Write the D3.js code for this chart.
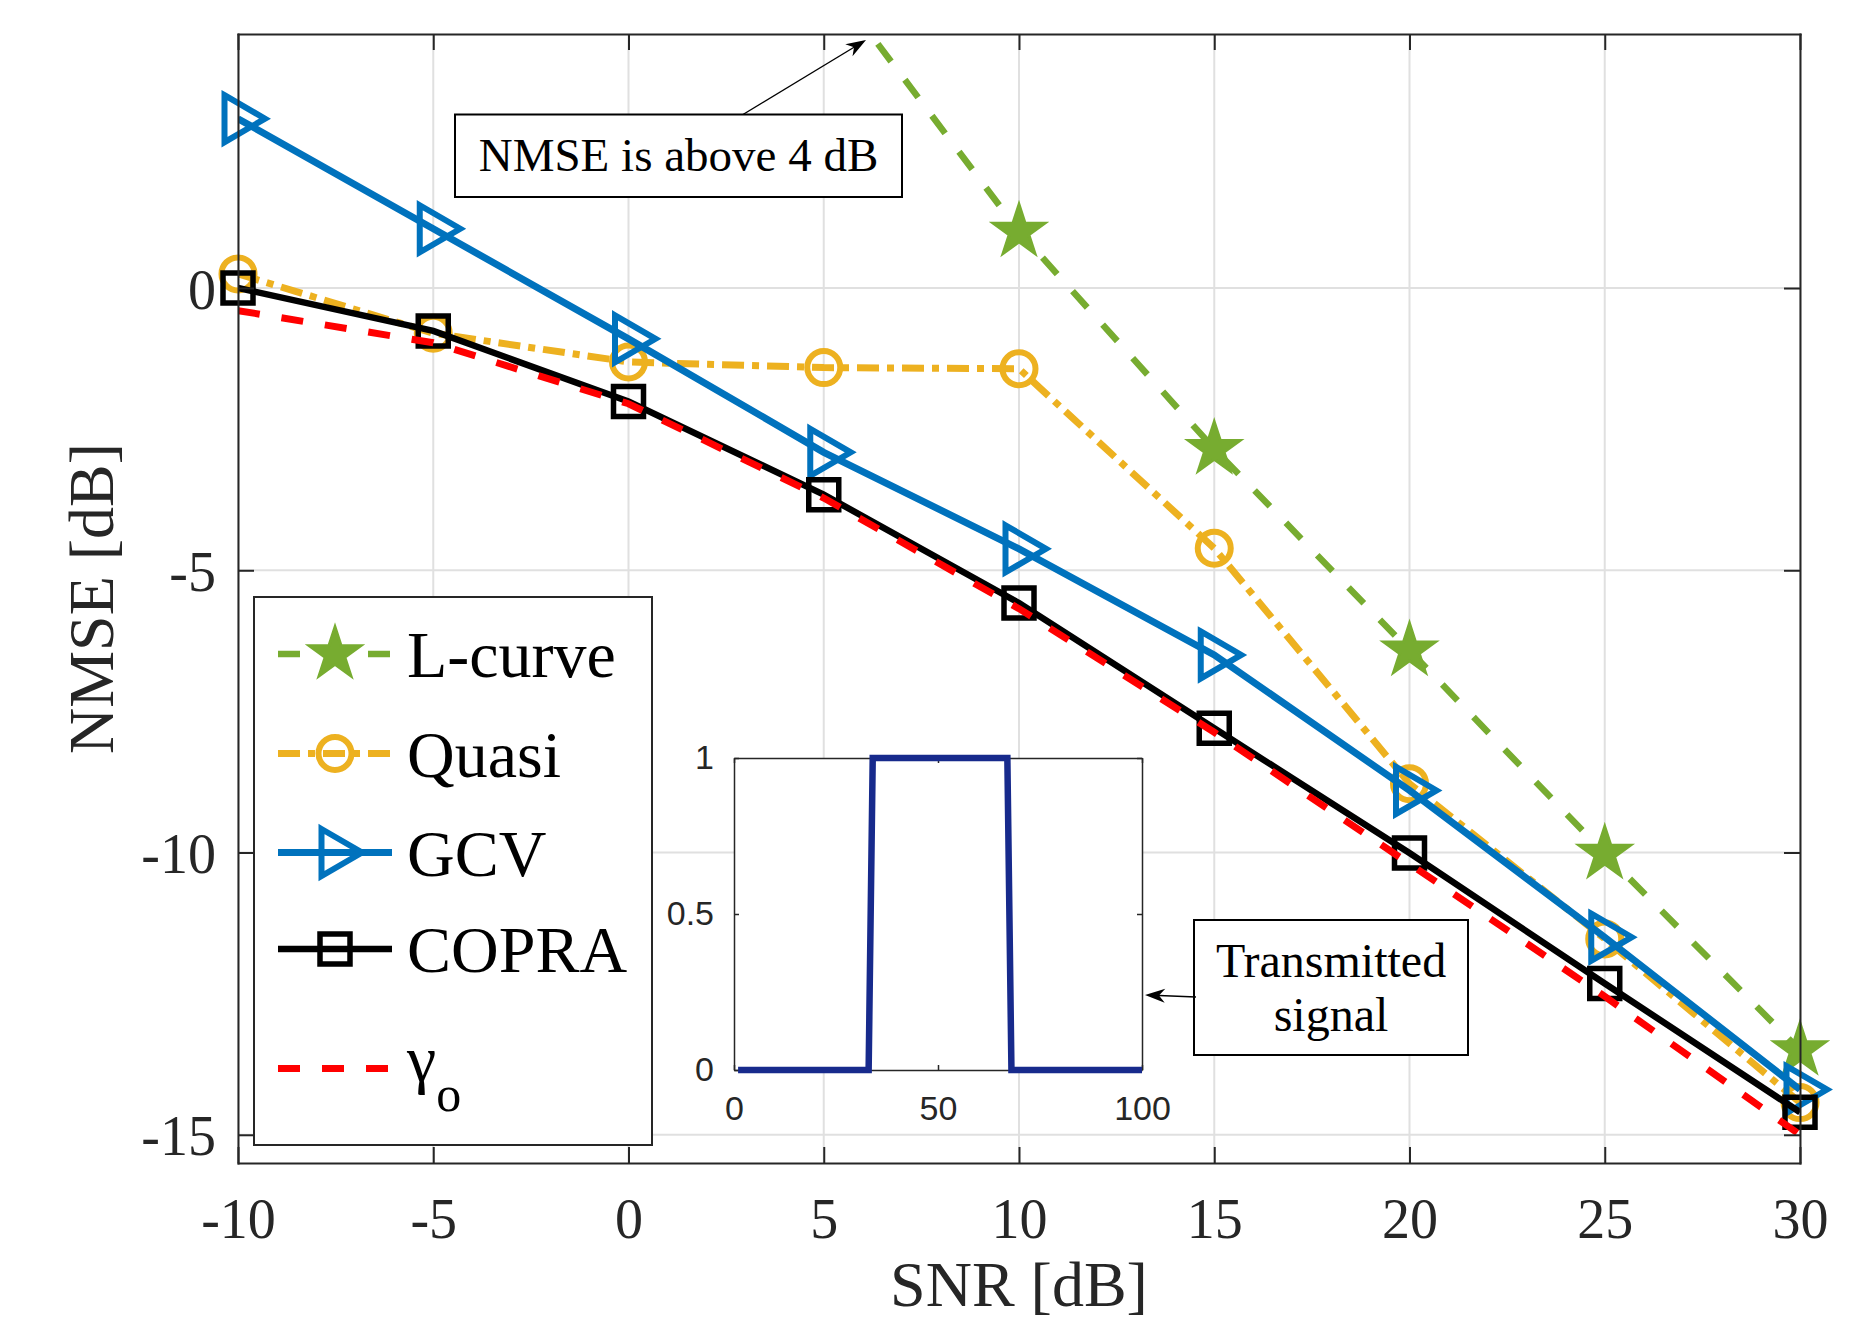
<!DOCTYPE html>
<html><head><meta charset="utf-8">
<script src="https://cdn.jsdelivr.net/npm/d3@7"></script>
<style>body{margin:0;background:#fff} svg{display:block}</style>
</head><body>
<svg id="chart" width="1872" height="1321"></svg>
<script>
// ---------------- data ----------------
const snr    = [-10, -5, 0, 5, 10, 15, 20, 25, 30];
const lcurve = [null, null, null, 5.6, 1.0, -2.85, -6.42, -10.02, -13.5];
const quasi  = [0.25, -0.8, -1.31, -1.41, -1.43, -4.61, -8.78, -11.53, -14.43];
const gcv    = [3.0, 1.05, -0.9, -2.91, -4.62, -6.5, -8.9, -11.5, -14.2];
const copra  = [0.0, -0.76, -2.01, -3.66, -5.58, -7.8, -10.01, -12.32, -14.6];
const gammaO = [-0.4, -0.97, -2.05, -3.72, -5.68, -7.87, -10.2, -12.55, -15.0];
const seriesNames = ["L-curve", "Quasi", "GCV", "COPRA", "γo"];
const xTicks = [-10, -5, 0, 5, 10, 15, 20, 25, 30];
const yTicks = [0, -5, -10, -15];
const insetX = [1, 33, 34, 67, 68, 100];
const insetY = [0, 0, 1, 1, 0, 0];
const insetXTicks = [0, 50, 100];
const insetYTicks = [0, 0.5, 1];
const annotText1 = "NMSE is above 4 dB";
const annotText2 = ["Transmitted", "signal"];

// ---------------- setup ----------------
const svg = d3.select("#chart");
svg.append("rect").attr("width",1872).attr("height",1321).attr("fill","#fff");
const SERIF = "'Liberation Serif','Times New Roman',Times,serif";
const SANS = "'Liberation Sans',Arial,Helvetica,sans-serif";
const AX = "#262626";

const L = 238, R = 1800, T = 34, B = 1163;
const x = d3.scaleLinear().domain([-10, 30]).range([L, R]);
const y = d3.scaleLinear().domain([-15.5, 4.5]).range([B, T]);

// grid
const grid = svg.append("g");
grid.selectAll("line.gx").data(xTicks).enter().append("line")
  .attr("x1", d=>x(d)).attr("x2", d=>x(d)).attr("y1", T).attr("y2", B)
  .attr("stroke", "#e0e0e0").attr("stroke-width", 2);
grid.selectAll("line.gy").data(yTicks).enter().append("line")
  .attr("x1", L).attr("x2", R).attr("y1", d=>y(d)).attr("y2", d=>y(d))
  .attr("stroke", "#e0e0e0").attr("stroke-width", 2);

// clip
svg.append("defs").append("clipPath").attr("id","plotclip")
  .append("rect").attr("x",L).attr("y",T).attr("width",R-L).attr("height",B-T);

// markers
function starPath(Ro){
  const ri = Ro*0.382, pts=[];
  for(let i=0;i<10;i++){const a=-Math.PI/2+i*Math.PI/5, r=i%2?ri:Ro; pts.push([r*Math.cos(a), r*Math.sin(a)]);}
  return "M"+pts.map(p=>p[0].toFixed(2)+","+p[1].toFixed(2)).join("L")+"Z";
}
const markerPaths = {
  star: starPath(27),
  tri: "M-13.5,-23.5L27,0L-13.5,23.5Z",
  square: "M-15,-15H15V15H-15Z",
  circle: d3.symbol(d3.symbolCircle, Math.PI*16.5*16.5)()
};

const series = [
  {name: seriesNames[0], values: lcurve, color: "#77AC30", dash: "22,23", width: 6.5, marker: "star"},
  {name: seriesNames[1], values: quasi,  color: "#EDB120", dash: "22,8,7,8", width: 7, marker: "circle"},
  {name: seriesNames[2], values: gcv,    color: "#0072BD", dash: null, width: 7, marker: "tri"},
  {name: seriesNames[3], values: copra,  color: "#000000", dash: null, width: 6.5, marker: "square"},
  {name: seriesNames[4], values: gammaO, color: "#FF0000", dash: "22,22", width: 7, marker: null}
];

function drawMarker(g, type, color, cx, cy){
  const p = g.append("path").attr("d", markerPaths[type]).attr("transform", `translate(${cx},${cy})`);
  if(type === "star"){
    p.attr("fill", color).attr("stroke", color).attr("stroke-width", 3).attr("stroke-linejoin","miter");
  } else {
    p.attr("fill", "none").attr("stroke", color).attr("stroke-width", type==="square"?5.5:6).attr("stroke-linejoin","miter");
  }
}

const lineGen = d3.line().defined(d=>d[1]!==null).x(d=>x(d[0])).y(d=>y(d[1]));
series.forEach(s=>{
  const g = svg.append("g");
  const pts = snr.map((v,i)=>[v, s.values[i]]);
  g.append("path").datum(pts).attr("d", lineGen).attr("clip-path","url(#plotclip)")
    .attr("fill","none").attr("stroke", s.color).attr("stroke-width", s.width)
    .attr("stroke-dasharray", s.dash).attr("stroke-linejoin","miter");
  if(s.marker){
    pts.filter(p=>p[1]!==null && y(p[1])>=T).forEach(p=>drawMarker(g, s.marker, s.color, x(p[0]), y(p[1])));
  }
});

// axes
function styleAxis(g){
  g.selectAll(".domain").attr("stroke", AX).attr("stroke-width", 2);
  g.selectAll(".tick line").attr("stroke", AX).attr("stroke-width", 2);
  g.selectAll(".tick text").attr("fill", AX).attr("font-family", SERIF).attr("font-size", 56);
}
const fmt = d=>String(d);
const gx = svg.append("g").attr("transform",`translate(0,${B})`)
  .call(d3.axisBottom(x).tickValues(xTicks).tickSizeInner(-16).tickSizeOuter(0).tickPadding(35).tickFormat(fmt));
styleAxis(gx);
const gxt = svg.append("g").attr("transform",`translate(0,${T})`)
  .call(d3.axisTop(x).tickValues(xTicks).tickSizeInner(-16).tickSizeOuter(0).tickFormat(""));
styleAxis(gxt);
const gy = svg.append("g").attr("transform",`translate(${L},0)`)
  .call(d3.axisLeft(y).tickValues(yTicks).tickSizeInner(-16).tickSizeOuter(0).tickPadding(22).tickFormat(fmt));
styleAxis(gy);
gy.selectAll(".tick text").attr("dy","0.36em");
const gyr = svg.append("g").attr("transform",`translate(${R},0)`)
  .call(d3.axisRight(y).tickValues(yTicks).tickSizeInner(-16).tickSizeOuter(0).tickFormat(""));
styleAxis(gyr);
svg.selectAll(".domain").attr("stroke-linecap","square");

// axis labels
svg.append("text").attr("x", (L+R)/2).attr("y", 1306).attr("text-anchor","middle")
  .attr("font-family", SERIF).attr("font-size", 64).attr("fill", AX).text("SNR [dB]");
svg.append("text").attr("transform", `translate(113,${(T+B)/2}) rotate(-90)`).attr("text-anchor","middle")
  .attr("font-family", SERIF).attr("font-size", 64).attr("fill", AX).text("NMSE [dB]");

// legend
const lg = svg.append("g");
const LX = 254, LY = 597, LW = 398, LH = 548;
lg.append("rect").attr("x",LX).attr("y",LY).attr("width",LW).attr("height",LH)
  .attr("fill","#fff").attr("stroke",AX).attr("stroke-width",2);
const rowY = [57, 156.5, 255.5, 352, 471.5].map(v=>LY+v);
series.forEach((s,i)=>{
  const ry = rowY[i];
  lg.append("line").attr("x1", LX+24).attr("x2", LX+138).attr("y1", ry).attr("y2", ry)
    .attr("stroke", s.color).attr("stroke-width", s.width).attr("stroke-dasharray", s.dash);
  if(s.marker) drawMarker(lg, s.marker, s.color, LX+81, ry);
  if(i < 4){
    lg.append("text").attr("x", LX+153).attr("y", ry+23).attr("font-family", SERIF)
      .attr("font-size", 66).attr("fill","#000").text(s.name);
  } else {
    const t = lg.append("text").attr("x", LX+153).attr("y", ry+12.5).attr("font-family", SERIF)
      .attr("font-size", 66).attr("fill","#000");
    t.append("tspan").text(s.name.charAt(0));
    t.append("tspan").attr("font-size", 50).attr("dy", 30).text(s.name.slice(1));
  }
});

// inset
const ig = svg.append("g");
const IL = 734, IR = 1142, IT = 758, IB = 1070;
const ix = d3.scaleLinear().domain([0,100]).range([IL, IR]);
const iy = d3.scaleLinear().domain([0,1]).range([IB, IT]);
ig.append("rect").attr("x",IL).attr("y",IT).attr("width",IR-IL).attr("height",IB-IT).attr("fill","#fff");
function styleInset(g){
  g.selectAll(".domain").attr("stroke", AX).attr("stroke-width", 1.5);
  g.selectAll(".tick line").attr("stroke", AX).attr("stroke-width", 1.5);
  g.selectAll(".tick text").attr("fill", AX).attr("font-family", SANS).attr("font-size", 34);
}
const ixb = ig.append("g").attr("transform",`translate(0,${IB})`)
  .call(d3.axisBottom(ix).tickValues(insetXTicks).tickSizeInner(-5).tickSizeOuter(0).tickPadding(26).tickFormat(fmt));
styleInset(ixb);
const ixt = ig.append("g").attr("transform",`translate(0,${IT})`)
  .call(d3.axisTop(ix).tickValues(insetXTicks).tickSizeInner(-5).tickSizeOuter(0).tickFormat(""));
styleInset(ixt);
const iyl = ig.append("g").attr("transform",`translate(${IL},0)`)
  .call(d3.axisLeft(iy).tickValues(insetYTicks).tickSizeInner(-5).tickSizeOuter(0).tickPadding(20).tickFormat(fmt));
styleInset(iyl);
const iyr = ig.append("g").attr("transform",`translate(${IR},0)`)
  .call(d3.axisRight(iy).tickValues(insetYTicks).tickSizeInner(-5).tickSizeOuter(0).tickFormat(""));
styleInset(iyr);
ig.append("path").datum(insetX.map((v,i)=>[v, insetY[i]]))
  .attr("d", d3.line().x(d=>ix(d[0])).y(d=>iy(d[1])))
  .attr("fill","none").attr("stroke","#172A8C").attr("stroke-width",6.5).attr("stroke-linejoin","miter");

// annotations
function arrow(x1,y1,x2,y2){
  const dx=x2-x1, dy=y2-y1, len=Math.hypot(dx,dy), ux=dx/len, uy=dy/len, nx=-uy, ny=ux;
  const HL=20, HW=7, NB=14;
  svg.append("line").attr("x1",x1).attr("y1",y1).attr("x2",x2-ux*NB).attr("y2",y2-uy*NB)
    .attr("stroke","#000").attr("stroke-width",1.4);
  const p = [[x2,y2],[x2-ux*HL+nx*HW, y2-uy*HL+ny*HW],[x2-ux*NB, y2-uy*NB],[x2-ux*HL-nx*HW, y2-uy*HL-ny*HW]];
  svg.append("path").attr("d","M"+p.map(q=>q.join(",")).join("L")+"Z").attr("fill","#000");
}
svg.append("rect").attr("x",455).attr("y",114.5).attr("width",447).attr("height",82.5)
  .attr("fill","#fff").attr("stroke","#000").attr("stroke-width",2);
svg.append("text").attr("x",678.5).attr("y",170.5).attr("text-anchor","middle")
  .attr("font-family",SERIF).attr("font-size",47).attr("fill","#000").text(annotText1);
arrow(743,114.5,866,40);

svg.append("rect").attr("x",1194).attr("y",920).attr("width",274).attr("height",135)
  .attr("fill","#fff").attr("stroke","#000").attr("stroke-width",2);
annotText2.forEach((t,i)=>{
  svg.append("text").attr("x",1331).attr("y",977+i*54).attr("text-anchor","middle")
    .attr("font-family",SERIF).attr("font-size",48).attr("fill","#000").text(t);
});
arrow(1196,997,1145,995);
</script>
</body></html>
